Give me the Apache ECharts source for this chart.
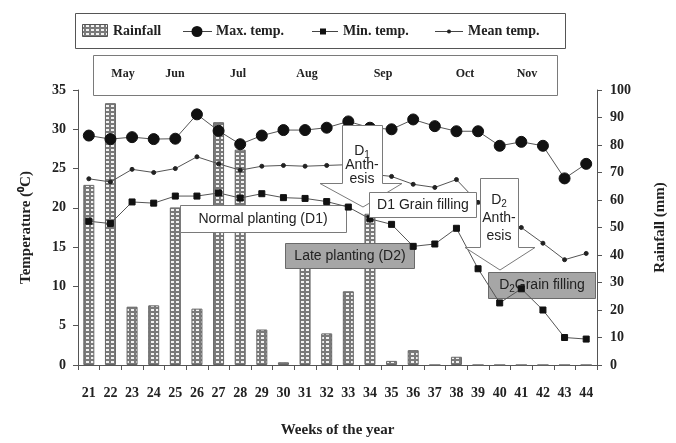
<!DOCTYPE html>
<html><head><meta charset="utf-8">
<script src="https://cdn.jsdelivr.net/npm/echarts@6/dist/echarts.min.js"></script>
<style>html,body{margin:0;padding:0;background:#fff}#c{width:676px;height:443px}</style>
</head><body><div id="c"></div>
<script>
const weeks = ['21','22','23','24','25','26','27','28','29','30','31','32','33','34','35','36','37','38','39','40','41','42','43','44'];
const rainfall = [65.5, 95.2, 21.2, 21.7, 57.3, 20.5, 88.3, 78.3, 12.9, 1.0, 40, 11.5, 26.8, 55, 1.5, 5.4, 0, 3.0, 0, 0, 0, 0, 0, 0];
const maxTemp = [29.2, 28.75, 29.0, 28.75, 28.8, 31.9, 29.8, 28.1, 29.2, 29.9, 29.9, 30.2, 31.0, 30.2, 30.0, 31.25, 30.4, 29.75, 29.75, 27.9, 28.4, 27.9, 23.75, 25.6];
const minTemp = [18.3, 18.0, 20.75, 20.6, 21.5, 21.5, 21.9, 21.25, 21.8, 21.3, 21.2, 20.8, 20.1, 18.6, 17.9, 15.1, 15.4, 17.4, 12.25, 7.9, 9.7, 7.0, 3.5, 3.3];
const meanTemp = [23.7, 23.3, 24.9, 24.5, 25.0, 26.5, 25.6, 24.8, 25.3, 25.4, 25.3, 25.4, 25.5, 24.3, 24.0, 23.0, 22.6, 23.6, 20.7, 17.9, 17.5, 15.5, 13.4, 14.2];
const tempTicks = [0, 5, 10, 15, 20, 25, 30, 35];
const rainTicks = [0, 10, 20, 30, 40, 50, 60, 70, 80, 90, 100];
const months = ['May','Jun','Jul','Aug','Sep','Oct','Nov'];
const monthX = [123, 175, 238, 307, 383, 465, 527];
const legendNames = ['Rainfall', 'Max. temp.', 'Min. temp.', 'Mean temp.'];

function makePattern(){
  const c = document.createElement('canvas'); c.width = 5; c.height = 4;
  const g = c.getContext('2d');
  g.fillStyle = '#7a7a7a'; g.fillRect(0,0,5,4);
  g.fillStyle = '#f2f2f2'; g.fillRect(1,1,3,2);
  return c;
}
const pat = {image: makePattern(), repeat: 'repeat'};
const serif = '"Liberation Serif", "Times New Roman", serif';
const sans = '"Liberation Sans", Arial, sans-serif';
const txt = '#222';

const chart = echarts.init(document.getElementById('c'), null, {renderer: 'canvas'});

const boxW = {fill: '#fff', stroke: '#7a7a7a', lineWidth: 1};
const boxG = {fill: '#a6a6a6', stroke: '#6a6a6a', lineWidth: 1};
const annFont = {fontFamily: sans, fontSize: 14, fill: '#222'};
const subRich = {d:{fontFamily:sans, fontSize:14, fill:'#222'}, s:{fontFamily:sans, fontSize:10, fill:'#222', padding:[8,0,0,0]}};

function arrowPts(l, r, t, b, bl, br, tipx, tipy){
  return [[l,t],[r,t],[r,b],[br,b],[tipx,tipy],[bl,b],[l,b]];
}
const legText = (s, x) => ({type:'text', x: x, y: 31, style:{text:s, fontFamily: serif, fontWeight:'bold', fontSize:14, fill:txt, align:'left', verticalAlign:'middle'}, z:21});
const legLine = (x1, x2) => ({type:'line', shape:{x1:x1, y1:31.5, x2:x2, y2:31.5}, style:{stroke:'#444', lineWidth:1}, z:21});

const graphics = [
  // legend box
  {type:'rect', shape:{x:75.5, y:13.5, width:490, height:35}, style:{fill:'#fff', stroke:'#555', lineWidth:1}, z:20},
  {type:'rect', shape:{x:82.5, y:24.5, width:25, height:12}, style:{fill:pat, stroke:'#555', lineWidth:1}, z:21},
  legText(legendNames[0], 113),
  legLine(183, 212), {type:'circle', shape:{cx:197, cy:31.5, r:5.5}, style:{fill:'#111'}, z:22},
  legText(legendNames[1], 216),
  legLine(312, 338), {type:'rect', shape:{x:320, y:28.5, width:6, height:6}, style:{fill:'#111'}, z:22},
  legText(legendNames[2], 343),
  legLine(435, 463), {type:'circle', shape:{cx:449, cy:31.5, r:2}, style:{fill:'#222'}, z:22},
  legText(legendNames[3], 468),
  // month box
  {type:'rect', shape:{x:93.5, y:55.5, width:464, height:40}, style:{fill:'#fff', stroke:'#7a7a7a', lineWidth:1}, z:20},
  ...months.map((m,i)=>({type:'text', x: monthX[i], y: 74, style:{text:m, fontFamily: serif, fontWeight:'bold', fontSize:12, fill:txt, align:'center', verticalAlign:'middle'}, z:21})),
  // Normal planting
  {type:'rect', shape:{x:180.5, y:205.5, width:166, height:27}, style: boxW, z:3},
  {type:'text', x:263, y:219, style:Object.assign({text:'Normal planting (D1)', align:'center', verticalAlign:'middle'}, annFont), z:3},
  // Late planting
  {type:'rect', shape:{x:285.5, y:243.5, width:129, height:25}, style: boxG, z:3},
  {type:'text', x:350, y:256, style:Object.assign({text:'Late planting (D2)', align:'center', verticalAlign:'middle'}, annFont), z:3},
  // D1 Anthesis callout
  {type:'polygon', shape:{points: arrowPts(342.5, 382.5, 125.5, 183.5, 320, 402, 363, 207)}, style: boxW, z:10},
  {type:'text', x:362, y:151, style:{rich: subRich, text:'{d|D}{s|1}', align:'center', verticalAlign:'middle'}, z:11},
  {type:'text', x:362, y:165, style:Object.assign({text:'Anth-', align:'center', verticalAlign:'middle'}, annFont), z:11},
  {type:'text', x:362, y:179, style:Object.assign({text:'esis', align:'center', verticalAlign:'middle'}, annFont), z:11},
  // D1 Grain filling
  {type:'rect', shape:{x:369.5, y:192.5, width:107, height:25}, style: boxW, z:12},
  {type:'text', x:423, y:205, style:Object.assign({text:'D1 Grain filling', align:'center', verticalAlign:'middle'}, annFont), z:12},
  // D2 Anthesis callout
  {type:'polygon', shape:{points: arrowPts(480.5, 518.5, 178.5, 247.5, 465, 535, 500, 270)}, style: boxW, z:10},
  {type:'text', x:499, y:200, style:{rich: subRich, text:'{d|D}{s|2}', align:'center', verticalAlign:'middle'}, z:11},
  {type:'text', x:499, y:218, style:Object.assign({text:'Anth-', align:'center', verticalAlign:'middle'}, annFont), z:11},
  {type:'text', x:499, y:236, style:Object.assign({text:'esis', align:'center', verticalAlign:'middle'}, annFont), z:11},
  // D2 Grain filling (under lines)
  {type:'rect', shape:{x:488.5, y:272.5, width:107, height:26}, style: boxG, z:3},
  {type:'text', x:542, y:285, style:{rich: subRich, text:'{d|D}{s|2}{d|Grain filling}', align:'center', verticalAlign:'middle'}, z:3}
];

chart.setOption({
  animation: false,
  backgroundColor: '#fff',
  textStyle: {fontFamily: serif},
  grid: {left: 78, right: 78, top: 90, bottom: 69},
  xAxis: {
    type: 'category', data: weeks, boundaryGap: true,
    axisLine: {lineStyle: {color: '#555', width: 1}},
    axisTick: {show: true, alignWithLabel: false, length: 5, lineStyle: {color: '#555'}},
    axisLabel: {fontFamily: serif, fontWeight: 'bold', fontSize: 14, color: txt, margin: 21, interval: 0},
    name: 'Weeks of the year', nameLocation: 'middle', nameGap: 58,
    nameTextStyle: {fontFamily: serif, fontWeight: 'bold', fontSize: 15, color: txt}
  },
  yAxis: [
    {
      type: 'value', min: 0, max: 35, interval: 5, position: 'left',
      axisLine: {show: true, lineStyle: {color: '#555'}},
      axisTick: {show: true, length: 5, lineStyle: {color: '#555'}},
      splitLine: {show: false},
      axisLabel: {fontFamily: serif, fontWeight: 'bold', fontSize: 14, color: txt, margin: 12,
        formatter: v => tempTicks.includes(v) ? String(v) : ''},
      name: 'Temperature (\u2070C)', nameLocation: 'middle', nameGap: 44, nameRotate: 90,
      nameTextStyle: {fontFamily: serif, fontWeight: 'bold', fontSize: 15, color: txt}
    },
    {
      type: 'value', min: 0, max: 100, interval: 10, position: 'right',
      axisLine: {show: true, lineStyle: {color: '#555'}},
      axisTick: {show: true, length: 5, lineStyle: {color: '#555'}},
      splitLine: {show: false},
      axisLabel: {fontFamily: serif, fontWeight: 'bold', fontSize: 14, color: txt, margin: 13,
        formatter: v => rainTicks.includes(v) ? String(v) : ''},
      name: 'Rainfall (mm)', nameLocation: 'middle', nameGap: 56, nameRotate: 90,
      nameTextStyle: {fontFamily: serif, fontWeight: 'bold', fontSize: 15, color: txt}
    }
  ],
  series: [
    {name: legendNames[0], type:'bar', yAxisIndex:1, data: rainfall, barWidth: 11, z: 2,
      itemStyle: {color: pat, borderColor: '#666', borderWidth: 1}},
    {name: legendNames[1], type:'line', yAxisIndex:0, data: maxTemp, z: 5,
      symbol:'circle', symbolSize: 11,
      lineStyle:{color:'#555', width:1}, itemStyle:{color:'#111', borderColor:'#111'}},
    {name: legendNames[2], type:'line', yAxisIndex:0, data: minTemp, z: 5,
      symbol:'rect', symbolSize: 6,
      lineStyle:{color:'#555', width:1}, itemStyle:{color:'#111', borderColor:'#111'}},
    {name: legendNames[3], type:'line', yAxisIndex:0, data: meanTemp, z: 5,
      symbol:'circle', symbolSize: 4,
      lineStyle:{color:'#555', width:1}, itemStyle:{color:'#222', borderColor:'#222'}}
  ],
  graphic: {elements: graphics}
});
</script></body></html>
